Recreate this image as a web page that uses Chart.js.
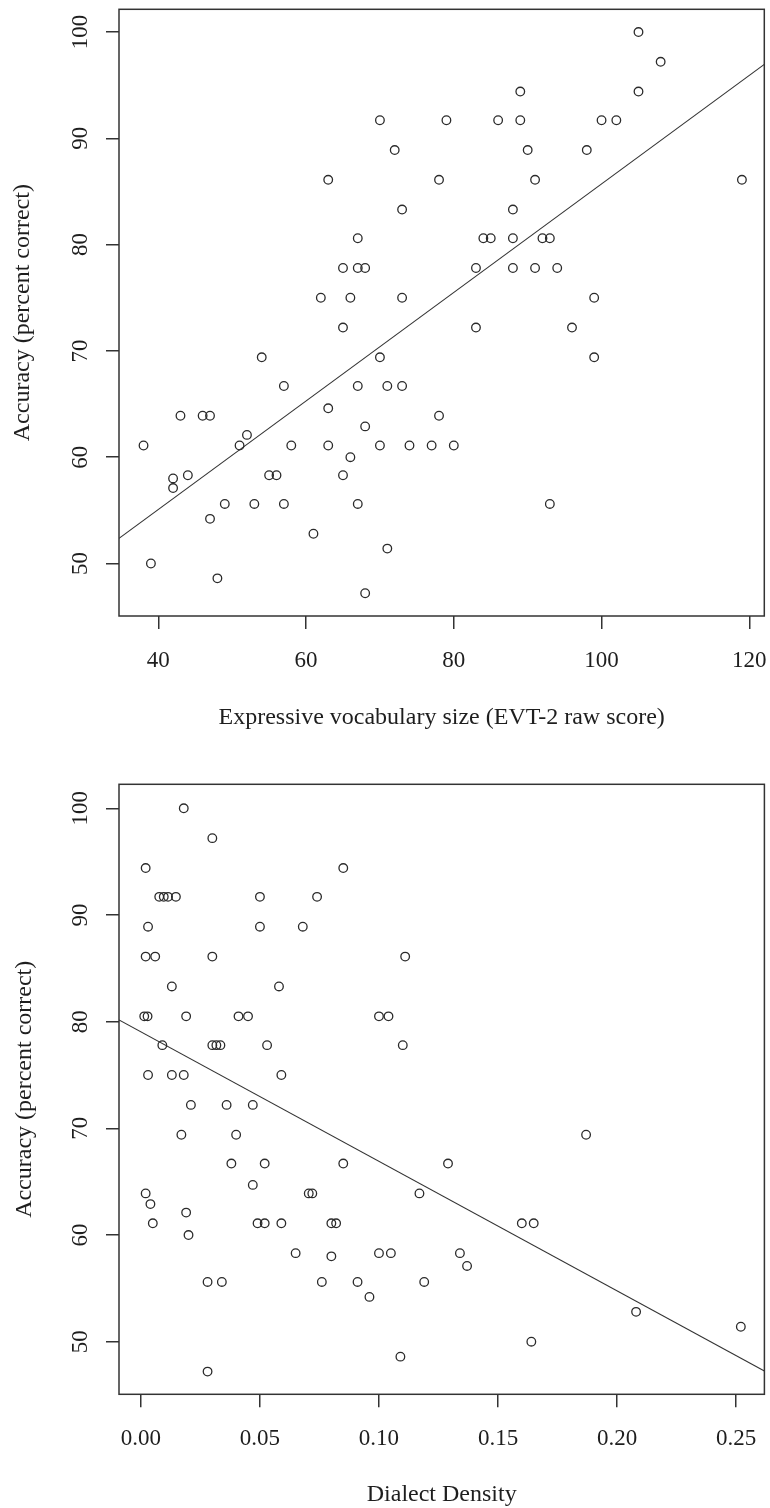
<!DOCTYPE html>
<html>
<head>
<meta charset="utf-8">
<script src="https://cdn.jsdelivr.net/npm/chart.js@4/dist/chart.umd.min.js"></script>
<style>
  body { margin: 0; background: #fff; }
  #wrap { position: relative; width: 770px; height: 1508px; }
  canvas { position: absolute; left: 0; }
  #top { top: 0; }
  #bottom { top: 754px; }
</style>
</head>
<body>
<div id="wrap">
  <canvas id="top" width="770" height="754"></canvas>
  <canvas id="bottom" width="770" height="754"></canvas>
</div>
<script>
// expressive vocabulary (EVT-2 raw score) vs accuracy
var vocabScores = [
  70, 72, 63, 78, 73, 67, 65, 67, 68, 62,
  66, 73, 65, 105, 108, 89, 105, 79, 86, 89,
  100, 102, 90, 98, 91, 119, 88, 84, 85, 88,
  92, 93, 83, 88, 91, 94, 99, 83, 96, 54,
  70, 99, 57, 67, 71, 73, 43, 46, 47, 78,
  63, 68, 52, 38, 51, 58, 63, 70, 74, 77,
  80, 66, 42, 44, 55, 56, 65, 42, 49, 53,
  57, 67, 93, 47, 61, 71, 39, 48, 68
];
var vocabAccuracy = [
  91.7, 88.9, 86.1, 86.1, 83.3, 80.6, 77.8, 77.8, 77.8, 75,
  75, 75, 72.2, 100, 97.2, 94.4, 94.4, 91.7, 91.7, 91.7,
  91.7, 91.7, 88.9, 88.9, 86.1, 86.1, 83.3, 80.6, 80.6, 80.6,
  80.6, 80.6, 77.8, 77.8, 77.8, 77.8, 75, 72.2, 72.2, 69.4,
  69.4, 69.4, 66.7, 66.7, 66.7, 66.7, 63.9, 63.9, 63.9, 63.9,
  64.6, 62.9, 62.1, 61.1, 61.1, 61.1, 61.1, 61.1, 61.1, 61.1,
  61.1, 60, 58, 58.3, 58.3, 58.3, 58.3, 57.1, 55.6, 55.6,
  55.6, 55.6, 55.6, 54.2, 52.8, 51.4, 50, 48.6, 47.2
];
var vocabFitX = [34.68, 122.03];
var vocabFitY = [52.36, 96.96];
var vocabTicks = [40, 60, 80, 100, 120];

// dialect density vs accuracy
var dialectDensity = [
  0.018, 0.030, 0.002, 0.085, 0.0077, 0.0096, 0.0114, 0.0147, 0.050, 0.074,
  0.003, 0.050, 0.068, 0.002, 0.006, 0.030, 0.111, 0.013, 0.058, 0.0014,
  0.0028, 0.019, 0.041, 0.045, 0.100, 0.104, 0.009, 0.030, 0.0317, 0.0334,
  0.053, 0.110, 0.003, 0.013, 0.018, 0.059, 0.021, 0.036, 0.047, 0.017,
  0.040, 0.187, 0.038, 0.052, 0.085, 0.129, 0.047, 0.002, 0.0705, 0.072,
  0.117, 0.004, 0.019, 0.005, 0.049, 0.052, 0.059, 0.080, 0.082, 0.160,
  0.165, 0.020, 0.065, 0.100, 0.105, 0.134, 0.080, 0.137, 0.028, 0.034,
  0.076, 0.091, 0.119, 0.096, 0.208, 0.252, 0.164, 0.109, 0.028
];
var dialectAccuracy = [
  100, 97.2, 94.4, 94.4, 91.7, 91.7, 91.7, 91.7, 91.7, 91.7,
  88.9, 88.9, 88.9, 86.1, 86.1, 86.1, 86.1, 83.3, 83.3, 80.5,
  80.5, 80.5, 80.5, 80.5, 80.5, 80.5, 77.8, 77.8, 77.8, 77.8,
  77.8, 77.8, 75, 75, 75, 75, 72.2, 72.2, 72.2, 69.4,
  69.4, 69.4, 66.7, 66.7, 66.7, 66.7, 64.7, 63.9, 63.9, 63.9,
  63.9, 62.9, 62.1, 61.1, 61.1, 61.1, 61.1, 61.1, 61.1, 61.1,
  61.1, 60, 58.3, 58.3, 58.3, 58.3, 58, 57.1, 55.6, 55.6,
  55.6, 55.6, 55.6, 54.2, 52.8, 51.4, 50, 48.6, 47.2
];
var dialectFitX = [-0.0092, 0.2619];
var dialectFitY = [80.16, 47.25];
var dialectTicks = [0, 0.05, 0.10, 0.15, 0.20, 0.25];

var accuracyTicks = [50, 60, 70, 80, 90, 100];

var serif = '"Liberation Serif", "Times New Roman", serif';
var ink = '#1e1e1e';

// box round the plot region plus R-style text (rotated y labels)
var rPlot = {
  id: 'rPlot',
  afterDraw: function (chart, args, opts) {
    var ctx = chart.ctx;
    var a = chart.chartArea;
    var xs = chart.scales.x, ys = chart.scales.y;
    ctx.save();
    ctx.strokeStyle = '#333';
    ctx.lineWidth = 1.5;
    ctx.strokeRect(a.left, a.top, a.right - a.left, a.bottom - a.top);

    ctx.fillStyle = ink;
    ctx.textAlign = 'center';
    ctx.textBaseline = 'alphabetic';
    ctx.font = '23px ' + serif;
    xs.ticks.forEach(function (t) {
      ctx.fillText(opts.fmt(t.value), xs.getPixelForValue(t.value), opts.xTickBase);
    });
    ys.ticks.forEach(function (t) {
      ctx.save();
      ctx.translate(opts.yTickBase, ys.getPixelForValue(t.value));
      ctx.rotate(-Math.PI / 2);
      ctx.fillText(String(t.value), 0, 0);
      ctx.restore();
    });

    ctx.font = '24px ' + serif;
    ctx.fillText(opts.xTitle, (a.left + a.right) / 2, opts.xTitleBase);
    ctx.save();
    ctx.translate(opts.yTitleBase, (a.top + a.bottom) / 2);
    ctx.rotate(-Math.PI / 2);
    ctx.fillText(opts.yTitle, 0, 0);
    ctx.restore();
    ctx.restore();
  }
};

function zip(xs, ys) {
  return xs.map(function (v, i) { return {x: v, y: ys[i]}; });
}

function makePlot(id, cfg) {
  var tickGrid = {
    drawOnChartArea: false,
    drawTicks: true,
    tickLength: 13,
    color: '#333',
    lineWidth: 1.5
  };
  return new Chart(document.getElementById(id), {
    type: 'scatter',
    data: {
      datasets: [{
        data: zip(cfg.xs, cfg.ys),
        pointStyle: 'circle',
        pointRadius: 4.3,
        pointBorderWidth: 1.3,
        borderColor: '#2b2b2b',
        backgroundColor: 'rgba(0,0,0,0)'
      }, {
        data: zip(cfg.fitX, cfg.fitY),
        showLine: true,
        pointRadius: 0,
        borderColor: '#333',
        borderWidth: 1.1
      }]
    },
    options: {
      responsive: false,
      devicePixelRatio: 1,
      animation: false,
      events: [],
      layout: {padding: {top: cfg.padTop, right: cfg.padRight, left: 0, bottom: 0}},
      plugins: {
        legend: {display: false},
        tooltip: {enabled: false},
        rPlot: {
          fmt: cfg.fmt,
          xTickBase: cfg.xTickBase,
          xTitleBase: cfg.xTitleBase,
          yTickBase: 86.5,
          yTitleBase: cfg.yTitleBase,
          xTitle: cfg.xTitle,
          yTitle: 'Accuracy (percent correct)'
        }
      },
      scales: {
        x: {
          type: 'linear',
          min: cfg.xMin,
          max: cfg.xMax,
          afterBuildTicks: function (s) { s.ticks = cfg.xTicks.map(function (v) { return {value: v}; }); },
          afterFit: function (s) { s.height = cfg.xAxisHeight; },
          ticks: {display: false},
          grid: tickGrid,
          border: {display: false}
        },
        y: {
          type: 'linear',
          min: cfg.yMin,
          max: cfg.yMax,
          afterBuildTicks: function (s) { s.ticks = accuracyTicks.map(function (v) { return {value: v}; }); },
          afterFit: function (s) { s.width = 119; },
          ticks: {display: false},
          grid: tickGrid,
          border: {display: false}
        }
      }
    },
    plugins: [rPlot]
  });
}

makePlot('top', {
  xs: vocabScores, ys: vocabAccuracy,
  fitX: vocabFitX, fitY: vocabFitY,
  xTicks: vocabTicks,
  xMin: 34.68, xMax: 122.03, yMin: 45.06, yMax: 102.14,
  padTop: 9.3, padRight: 5.7, xAxisHeight: 138,
  xTickBase: 667, xTitleBase: 724, yTitleBase: 29,
  xTitle: 'Expressive vocabulary size (EVT-2 raw score)',
  fmt: function (v) { return String(v); }
});

makePlot('bottom', {
  xs: dialectDensity, ys: dialectAccuracy,
  fitX: dialectFitX, fitY: dialectFitY,
  xTicks: dialectTicks,
  xMin: -0.0092, xMax: 0.2619, yMin: 45.07, yMax: 102.25,
  padTop: 30.3, padRight: 4, xAxisHeight: 113.7,
  xTickBase: 691, xTitleBase: 746.5, yTitleBase: 30.5,
  xTitle: 'Dialect Density',
  fmt: function (v) { return v.toFixed(2); }
});
</script>
</body>
</html>
